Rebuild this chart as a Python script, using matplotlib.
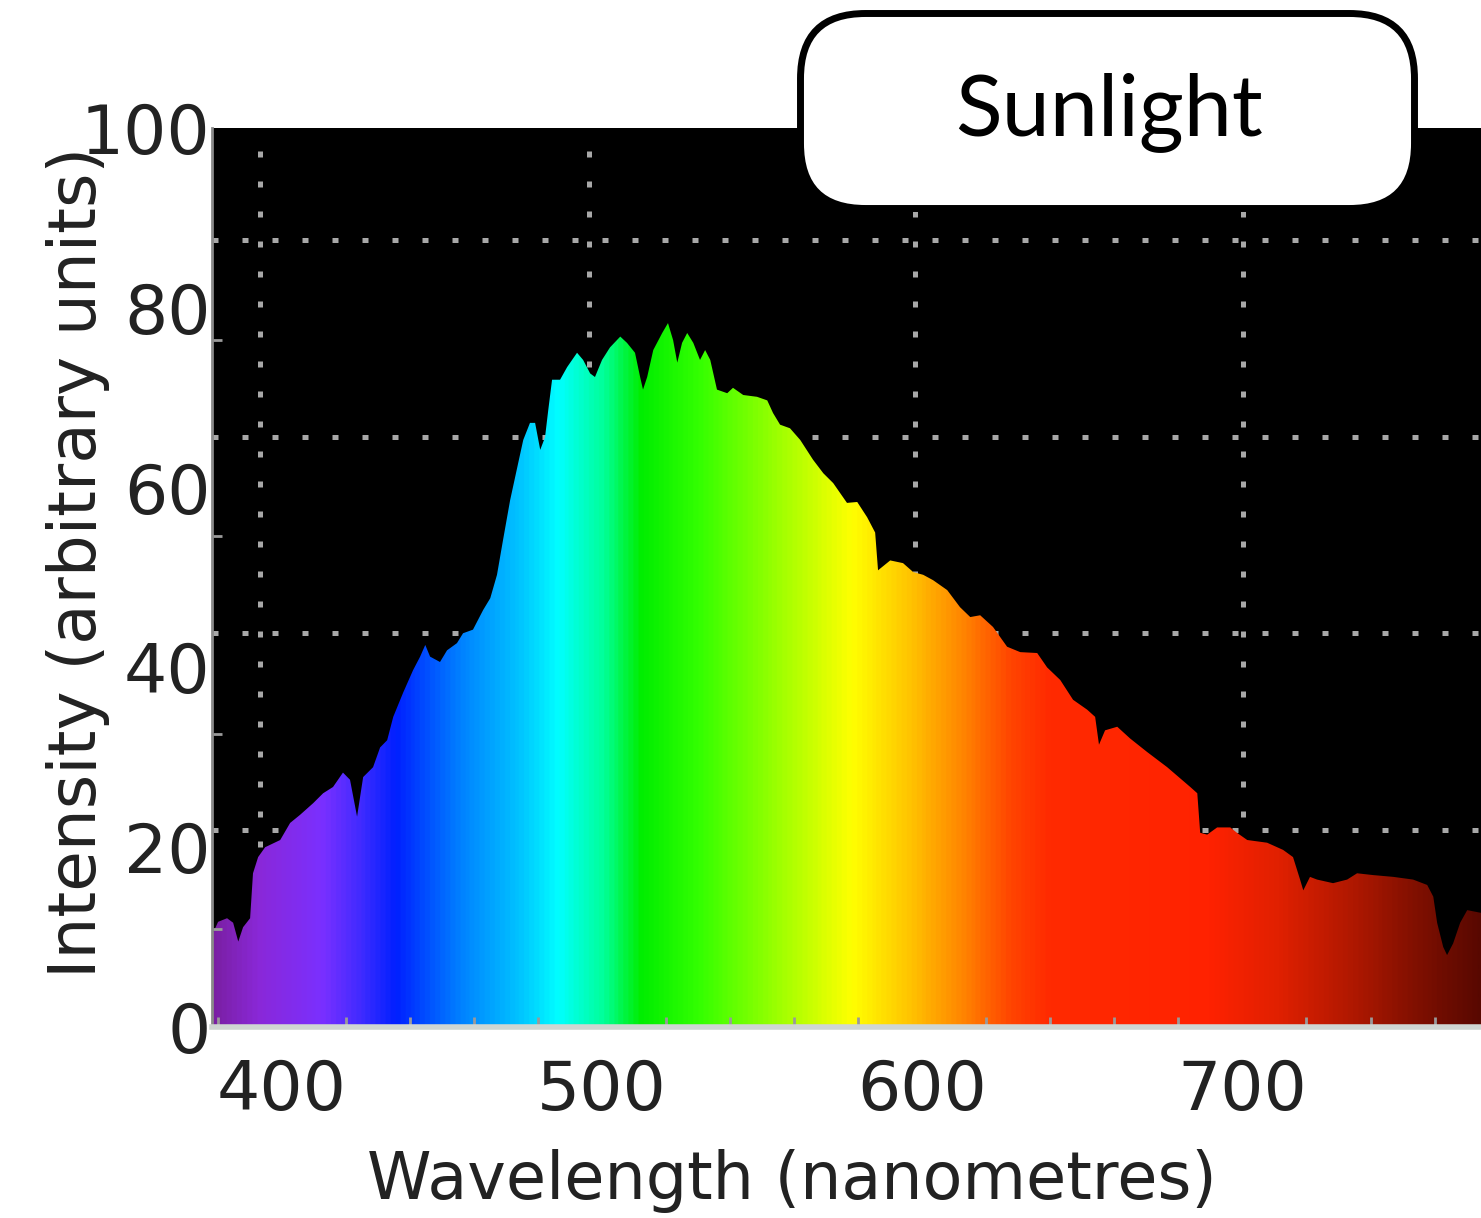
import numpy as np
import matplotlib.pyplot as plt
from matplotlib.colors import LinearSegmentedColormap
from matplotlib.patches import FancyBboxPatch

# spectrum outline (nm, arbitrary units)
wavelength = [378.2, 380.1, 382.9, 384.8, 386.4, 387.9, 390.1, 391.0, 392.6, 394.8,
              399.5, 402.6, 405.7, 409.8, 412.9, 416.0, 419.1, 421.3, 423.5, 425.4,
              428.5, 430.7, 432.9, 434.8, 437.9, 441.0, 443.2, 444.8, 446.3, 449.4,
              451.6, 454.7, 456.6, 459.7, 462.9, 465.1, 467.2, 469.1, 471.3, 473.8,
              475.4, 477.5, 479.1, 480.7, 482.2, 483.2, 484.4, 486.9, 489.1, 492.2,
              494.1, 496.3, 497.8, 500.0, 502.5, 505.7, 507.8, 510.3, 511.9, 512.8,
              514.1, 516.0, 518.8, 520.6, 522.2, 523.5, 525.0, 526.6, 528.5, 530.6,
              532.2, 533.8, 535.9, 539.1, 540.9, 544.1, 548.4, 551.6, 553.4, 555.6,
              558.7, 561.9, 565.9, 569.1, 572.2, 576.5, 579.7, 582.8, 585.3, 586.2,
              590.0, 594.0, 597.2, 600.3, 603.4, 607.8, 611.8, 615.0, 618.1, 622.1,
              626.5, 630.6, 635.9, 639.0, 643.1, 647.1, 651.5, 654.0, 655.2, 657.1,
              660.9, 664.9, 670.2, 676.5, 683.7, 685.9, 686.8, 689.0, 692.1, 696.2,
              698.3, 701.5, 707.7, 712.7, 715.8, 718.0, 719.0, 721.1, 723.3, 728.3,
              732.7, 735.8, 740.8, 747.1, 753.3, 757.7, 759.6, 760.8, 762.7, 763.9,
              765.8, 768.0, 770.2, 774.5]
intensity = [10.2, 11.7, 12.1, 11.6, 9.5, 11.1, 12.1, 17.1, 18.9, 20.0,
             20.8, 22.7, 23.6, 24.9, 26.0, 26.7, 28.3, 27.5, 23.4, 27.8,
             28.9, 31.1, 31.9, 34.5, 37.2, 39.7, 41.2, 42.5, 41.2, 40.6,
             41.9, 42.7, 43.8, 44.2, 46.4, 47.7, 50.3, 54.2, 58.6, 62.7,
             65.3, 67.2, 67.2, 64.2, 65.6, 68.6, 72.0, 72.0, 73.4, 75.0,
             74.2, 72.7, 72.3, 74.2, 75.6, 76.8, 76.1, 75.0, 72.3, 70.9,
             72.3, 75.3, 77.2, 78.3, 76.4, 73.9, 76.1, 77.2, 76.1, 74.2,
             75.3, 74.2, 70.9, 70.5, 71.1, 70.3, 70.1, 69.7, 68.3, 67.0,
             66.6, 65.3, 63.1, 61.6, 60.5, 58.3, 58.4, 56.7, 55.0, 50.8,
             51.9, 51.6, 50.6, 50.3, 49.7, 48.6, 46.7, 45.6, 45.8, 44.5,
             42.3, 41.7, 41.6, 40.0, 38.6, 36.4, 35.3, 34.5, 31.4, 33.0,
             33.4, 32.1, 30.6, 28.9, 26.7, 26.0, 21.6, 21.4, 22.2, 22.2,
             21.6, 20.8, 20.5, 19.7, 18.9, 16.4, 15.2, 16.7, 16.4, 16.0,
             16.4, 17.1, 16.9, 16.7, 16.4, 15.8, 14.5, 11.6, 8.9, 8.0,
             9.3, 11.6, 13.0, 12.7]

x_ticks = [400, 500, 600, 700]
y_ticks = [0, 20, 40, 60, 80, 100]

# colour of the light at each wavelength
stop_nm = [378, 392, 412, 425, 435, 455, 475, 486, 500, 512, 530, 550, 565,
           578, 595, 612, 628, 640, 690, 712, 735, 755, 775]
stop_colours = ['#7a1fa2', '#8a28d8', '#7a30ff', '#3a2aff', '#0020ff', '#0080ff',
                '#00c8ff', '#00ffff', '#00ff99', '#00ee00', '#33ff00', '#88ff00',
                '#c8ff00', '#ffff00', '#ffc800', '#ff8800', '#ff4400', '#ff2a00',
                '#ff2200', '#e02000', '#b01800', '#801000', '#580800']

xmin, xmax = 378.2, 774.5

fig = plt.figure(figsize=(14.81, 12.18), dpi=100)
ax = fig.add_axes([0.14315, 0.15681, 0.85685, 0.73810])
ax.set_facecolor('black')

# the grid of the original plot does not sit on the labels
grid_x = [393.2, 496.0, 597.8, 700.2]
grid_y = [21.9, 43.8, 65.6, 87.5]
dots = dict(color='#a8a8a8', lw=3.6, linestyle=(0, (1.2, 4.8)), zorder=0.5)
for gx in grid_x:
    ax.axvline(gx, **dots)
for gy in grid_y:
    ax.axhline(gy, **dots)

fill = ax.fill_between(wavelength, intensity, 0, facecolor='none', edgecolor='none')
pos = [(s - stop_nm[0]) / (stop_nm[-1] - stop_nm[0]) for s in stop_nm]
cmap = LinearSegmentedColormap.from_list('spectrum', list(zip(pos, stop_colours)))
grad = np.linspace(stop_nm[0], stop_nm[-1], 1000).reshape(1, -1)
im = ax.imshow(grad, extent=[stop_nm[0], stop_nm[-1], 0, 100], aspect='auto',
               cmap=cmap, vmin=stop_nm[0], vmax=stop_nm[-1], origin='lower',
               interpolation='bilinear', zorder=1)
im.set_clip_path(fill.get_paths()[0], transform=ax.transData)

ax.set_xlim(xmin, xmax)
ax.set_ylim(0, 100)

ax.set_xticks(x_ticks)
ax.set_yticks(y_ticks)
ax.set_xticks(np.arange(380, 780, 20), minor=True)
ax.set_yticks([10.95, 32.6, 54.6, 76.4], minor=True)
ax.tick_params(axis='both', which='major', length=0, labelsize=49, labelcolor='#222222')
ax.tick_params(axis='x', which='major', pad=22)
ax.tick_params(axis='y', which='major', pad=1)
ax.tick_params(axis='both', which='minor', direction='in', length=7, width=2, color='#9a9a9a')

for side in ['top', 'right']:
    ax.spines[side].set_visible(False)
ax.spines['left'].set_color('#8a8a8a')
ax.spines['left'].set_linewidth(2)
ax.spines['bottom'].set_color('#cfd6d2')
ax.spines['bottom'].set_linewidth(4)

fig.text(78 / 1481, 1 - 562 / 1218, 'Intensity (arbitrary units)', rotation=90,
         ha='center', va='center', fontsize=47.5, color='#222222')
fig.text(792 / 1481, 1 - 1181 / 1218, 'Wavelength (nanometres)',
         ha='center', va='center', fontsize=47, color='#222222')

# label box
box = FancyBboxPatch((8.005, 10.095), 6.14, 1.95,
                     boxstyle='round,pad=0,rounding_size=0.65',
                     transform=fig.dpi_scale_trans, fc='white', ec='black',
                     lw=5, zorder=10)
fig.add_artist(box)
fig.text(1109 / 1481, 1 - 112 / 1218, 'Sunlight', family='Lato', fontsize=62,
         ha='center', va='center', color='black', zorder=11)

fig.savefig('out.png', dpi=100)
